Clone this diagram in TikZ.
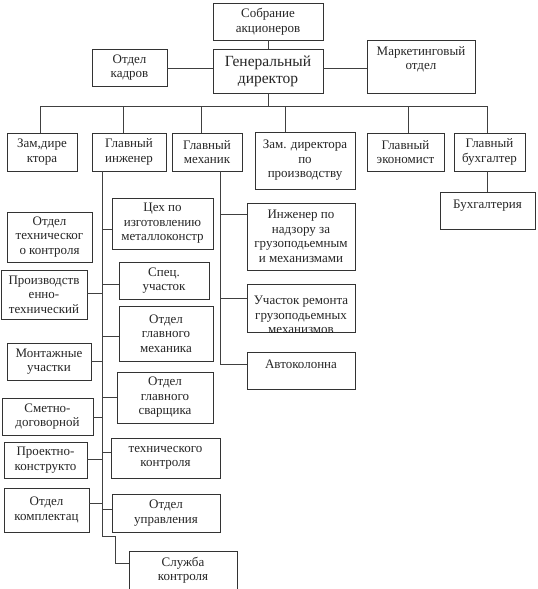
\documentclass[tikz,border=0pt]{standalone}
\usepackage{fontspec}
\setmainfont{Liberation Serif}
\tikzset{
  box/.style={draw=black!80, line width=0.9pt, align=center, inner sep=1pt, text=black!85,
    font=\fontsize{13}{14.5}\selectfont},
  txt/.style={align=center, inner sep=0pt, text=black!85, font=\fontsize{13}{14.5}\selectfont},
  conn/.style={draw=black!75, line width=0.9pt}
}
\newcommand\mybox[7][]{\node[box,#1,minimum width={(#5-#3)*1pt},minimum height={(#6-#4)*1pt}] (#2) at ({(#3+#5)/2},{(#4+#6)/2}) {#7};}
\begin{document}
\begin{tikzpicture}[x=1pt,y=-1pt]
\useasboundingbox[fill=white] (0,0) rectangle (538,589);
% top
\mybox{sob}{213}{3}{323}{40}{Собрание\\акционеров}
\mybox[font=\fontsize{15.5}{17}\selectfont]{gd}{213}{49}{323}{93}{Генеральный\\директор}
\mybox{kad}{92}{49}{167}{86}{Отдел\\кадров}
\mybox{mark}{367}{40}{475}{93}{}
\node[txt] (markt) at (421,59.5) {Маркетинговый\\отдел};
% second row
\mybox{zam}{7}{133}{77}{171}{Зам,дире\\ктора}
\mybox{ing}{92}{133}{166}{171}{Главный\\инженер}
\mybox{meh}{172}{133}{242}{171}{Главный\\механик}
\mybox{zpr}{255}{132}{355}{189}{Зам. директора\\по\\производству}
\mybox{ekon}{367}{133}{444}{171}{Главный\\экономист}
\mybox{buh}{454}{133}{525}{171}{Главный\\бухгалтер}
\mybox{buhg}{440}{192}{535}{229}{}
\node[txt] (buhgt) at (487.5,206) {Бухгалтерия};
% engineer, right column
\mybox{ceh}{112}{198}{213}{249}{Цех по\\изготовлению\\металлоконстр}
\mybox{spec}{119}{262}{209}{299}{Спец.\\участок}
\mybox{ogm}{119}{306}{213}{361}{Отдел\\главного\\механика}
\mybox{svar}{117}{372}{213}{423}{Отдел\\главного\\сварщика}
\mybox{tk}{111}{438}{220}{478}{технического\\контроля}
\mybox{upr}{112}{494}{220}{532}{Отдел\\управления}
\mybox{slu}{129}{551}{237}{600}{}
\node[txt] (slut) at (183,570) {Служба\\контроля};
% engineer, left column
\mybox{otk}{7}{212}{92}{262}{Отдел\\техническог\\о контроля}
\mybox{pt}{1}{270}{87}{319}{Производств\\енно-\\технический}
\mybox{mont}{7}{343}{91}{380}{Монтажные\\участки}
\mybox{smet}{2}{398}{93}{435}{Сметно-\\договорной}
\mybox{proekt}{4}{442}{87}{478}{Проектно-\\конструкто}
\mybox{kompl}{4}{488}{89}{532}{Отдел\\комплектац}
% mechanic column
\mybox{nadz}{247}{203}{355}{270}{Инженер по\\надзору за\\грузоподьемным\\и механизмами}
\mybox{rem}{247}{284}{355}{332}{}
\begin{scope}
\clip (rem.north west) rectangle (rem.south east);
\node[txt] (remt) at (301,315) {Участок ремонта\\грузоподьемных\\механизмов};
\end{scope}
\mybox{avto}{247}{352}{355}{389}{}
\node[txt] (avtot) at (301,364) {Автоколонна};
% coordinates
\coordinate (busL) at (40,106);
\coordinate (busR) at (487,106);
\coordinate (iv) at (102,536);
\coordinate (sk1) at (115,536);
\coordinate (sk2) at (115,563);
\coordinate (mv) at (220,364);
% top connectors
\draw[conn] (sob.south) -- (gd.north);
\draw[conn] (kad.east |- 0,68) -- (gd.west |- 0,68);
\draw[conn] (gd.east |- 0,68) -- (mark.west |- 0,68);
\draw[conn] (gd.south) -- (gd.south |- busL);
\draw[conn] (busL) -- (busR);
\draw[conn] (busL) -- (busL |- zam.north);
\draw[conn] ([xshift=-6pt]ing.north |- busL) -- ([xshift=-6pt]ing.north);
\draw[conn] ([xshift=-6pt]meh.north |- busL) -- ([xshift=-6pt]meh.north);
\draw[conn] ([xshift=-19.5pt]zpr.north |- busL) -- ([xshift=-19.5pt]zpr.north);
\draw[conn] ([xshift=2.5pt]ekon.north |- busL) -- ([xshift=2.5pt]ekon.north);
\draw[conn] (busR) -- (busR |- buh.north);
\draw[conn] ([xshift=-2.5pt]buh.south) -- ([xshift=-2.5pt]buh.south |- buhg.north);
% engineer trunk
\draw[conn] ([xshift=-27pt]ing.south) -- (iv) -- (sk1) -- (sk2) -- (sk2 -| slu.west);
\draw[conn] ([yshift=-5.5pt]ceh.west) -- ([yshift=-5.5pt]ceh.west -| iv);
\draw[conn] ([yshift=-3.5pt]spec.west) -- ([yshift=-3.5pt]spec.west -| iv);
\draw[conn] ([yshift=-2.5pt]ogm.west) -- ([yshift=-2.5pt]ogm.west -| iv);
\draw[conn] ([yshift=0.5pt]svar.west) -- ([yshift=0.5pt]svar.west -| iv);
\draw[conn] ([yshift=6pt]tk.west) -- ([yshift=6pt]tk.west -| iv);
\draw[conn] ([yshift=4pt]upr.west) -- ([yshift=4pt]upr.west -| iv);
\draw[conn] ([yshift=1.5pt]pt.east) -- ([yshift=1.5pt]pt.east -| iv);
\draw[conn] ([yshift=0.5pt]mont.east) -- ([yshift=0.5pt]mont.east -| iv);
\draw[conn] ([yshift=-0.5pt]smet.east) -- ([yshift=-0.5pt]smet.east -| iv);
\draw[conn] ([yshift=1pt]proekt.east) -- ([yshift=1pt]proekt.east -| iv);
\draw[conn] ([yshift=7pt]kompl.east) -- ([yshift=7pt]kompl.east -| iv);
% mechanic trunk
\draw[conn] ([xshift=13pt]meh.south) -- (mv) -- (mv -| avto.west);
\draw[conn] ([yshift=22.5pt]nadz.west) -- ([yshift=22.5pt]nadz.west -| mv);
\draw[conn] ([yshift=10pt]rem.west) -- ([yshift=10pt]rem.west -| mv);
\end{tikzpicture}
\end{document}
